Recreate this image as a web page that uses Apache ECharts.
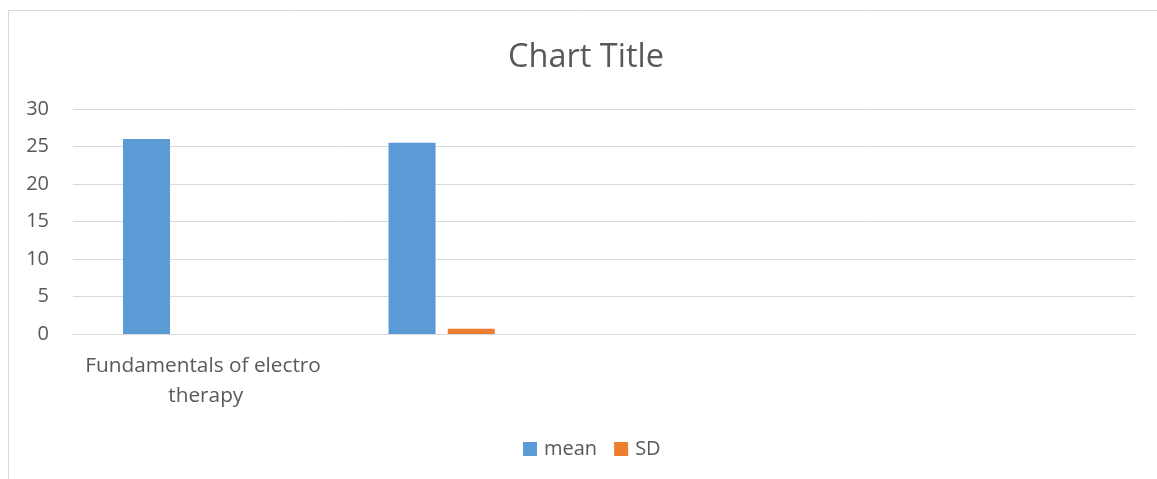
<!DOCTYPE html>
<html>
<head>
<meta charset="utf-8">
<script src="https://cdn.jsdelivr.net/npm/echarts@6/dist/echarts.min.js"></script>
<style>
html,body{margin:0;padding:0;background:#fff;}
#chart{width:1157px;height:479px;}
</style>
</head>
<body>
<div id="chart"></div>
<script>
const categories = ["Fundamentals of electro therapy", "", "", ""];
const meanValues = [26, 25.5, null, null];
const sdValues = [null, 0.7, null, null];
const thirdValues = [null, null, null, null];
const legendNames = ["mean", "SD"];
const titleText = "Chart Title";

const FONT = "Open Sans";
const TXT = "#595959";
const chart = echarts.init(document.getElementById('chart'), null, {renderer: 'canvas'});
chart.setOption({
  animation: false,
  backgroundColor: '#fff',
  textStyle: {fontFamily: FONT},
  graphic: [{
    type: 'rect', silent: true, z: -1,
    shape: {x: 8.5, y: 10.5, width: 1160, height: 480},
    style: {fill: 'none', stroke: '#d9d9d9', lineWidth: 1}
  }],
  title: {
    text: titleText,
    left: 581, top: 36, textAlign: 'center',
    textStyle: {fontFamily: FONT, fontSize: 32.5, fontWeight: 'normal', color: TXT}
  },
  legend: {
    data: legendNames,
    left: 518, top: 434,
    itemWidth: 14, itemHeight: 14, itemGap: 17,
    icon: 'rect',
    textStyle: {fontFamily: FONT, fontSize: 20, color: TXT, padding: [0,0,0,2]}
  },
  grid: {left: 73, right: 22, top: 109, bottom: 145, containLabel: false},
  xAxis: {
    type: 'category',
    data: categories,
    axisLine: {show: true, lineStyle: {color: '#d9d9d9', width: 1}},
    axisTick: {show: false},
    axisLabel: {
      interval: 0, color: TXT, fontFamily: FONT, fontSize: 20.8,
      lineHeight: 30, margin: 17, width: 258, overflow: 'break'
    }
  },
  yAxis: {
    type: 'value', min: 0, max: 30, interval: 5,
    axisLine: {show: false}, axisTick: {show: false},
    axisLabel: {color: TXT, fontFamily: FONT, fontSize: 20, margin: 24},
    splitLine: {lineStyle: {color: '#d9d9d9', width: 1}}
  },
  series: [
    {name: 'mean', type: 'bar', data: meanValues, barWidth: 47, barGap: '26%',
     itemStyle: {color: '#5b9bd5'}},
    {name: 'SD', type: 'bar', data: sdValues, barWidth: 47,
     itemStyle: {color: '#ed7d31'}},
    {name: 'series3', type: 'bar', data: thirdValues, barWidth: 47,
     itemStyle: {color: '#a5a5a5'}}
  ]
});
</script>
</body>
</html>
